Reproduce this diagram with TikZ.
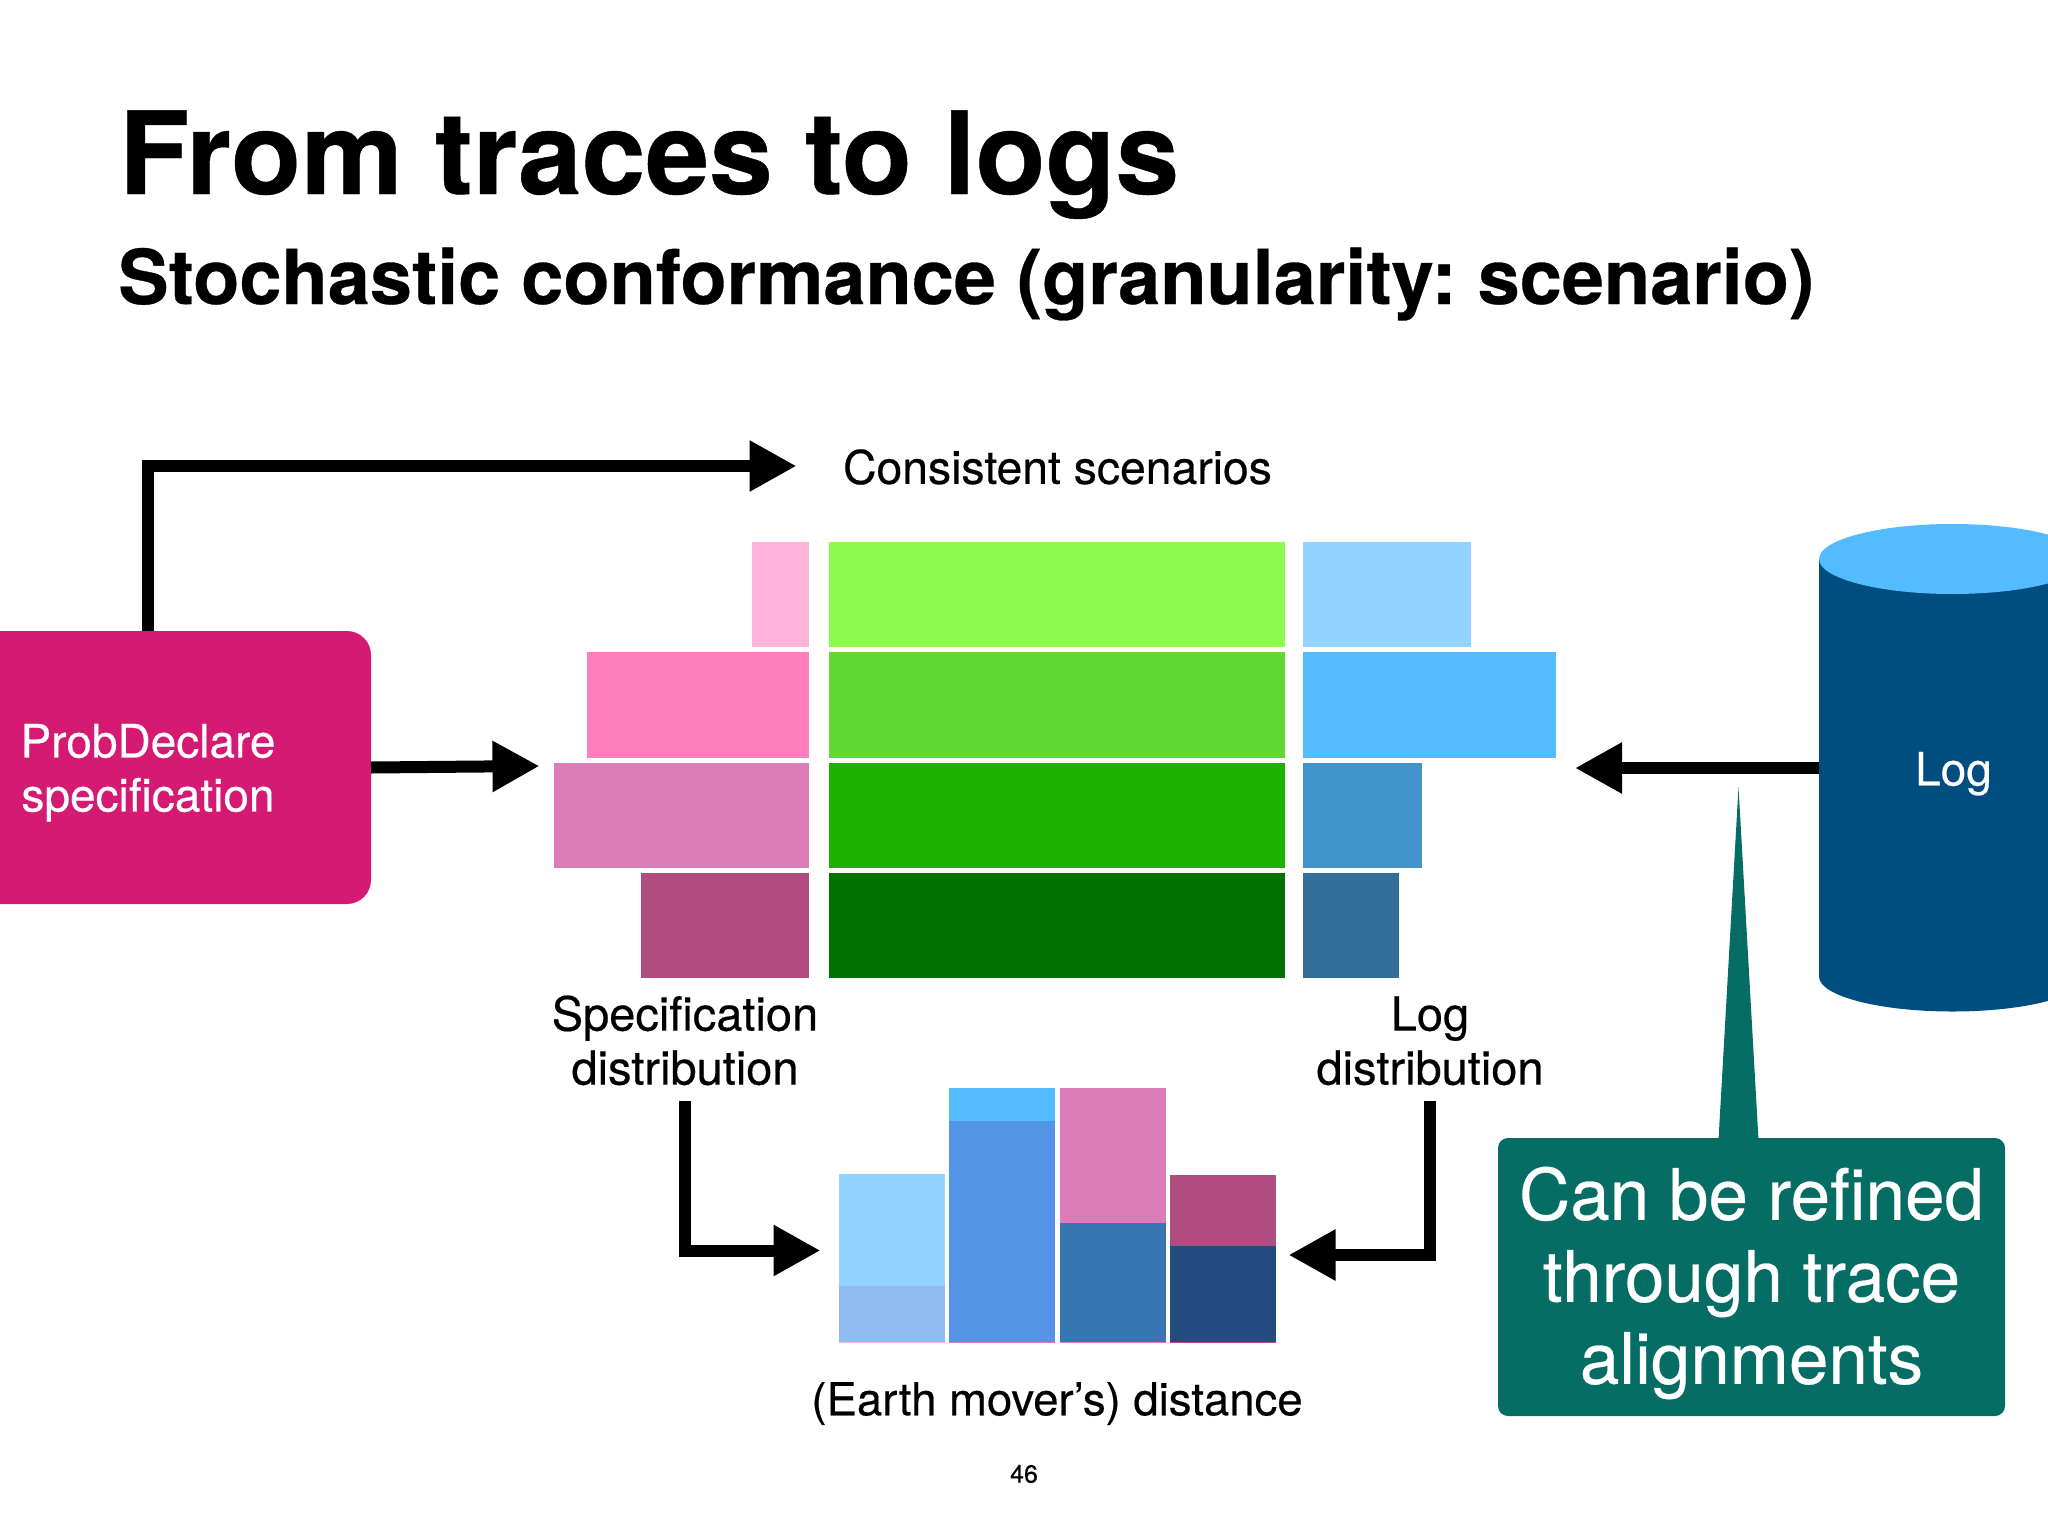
\documentclass[tikz,border=0pt]{standalone}
\usepackage{fontspec}
\setmainfont[FakeBold=0.4]{TeX Gyre Heros}
\usetikzlibrary{arrows.meta,calc}
\definecolor{cSpec}{HTML}{D41A73}
\definecolor{cTeal}{HTML}{056D64}
\definecolor{cLog}{HTML}{004D80}
\definecolor{cTop}{HTML}{53BBFF}
\definecolor{gA}{HTML}{8DFB4E}
\definecolor{gB}{HTML}{61D836}
\definecolor{gC}{HTML}{1DB100}
\definecolor{gD}{HTML}{017100}
\definecolor{pA}{HTML}{FFB3D8}
\definecolor{pB}{HTML}{FF7DBB}
\definecolor{pC}{HTML}{DC7CB8}
\definecolor{pD}{HTML}{B04C80}
\definecolor{bA}{HTML}{92D4FF}
\definecolor{bB}{HTML}{53BBFF}
\definecolor{bC}{HTML}{4194CB}
\definecolor{bD}{HTML}{336E99}
\definecolor{hA}{HTML}{8FBBF0}
\definecolor{hB}{HTML}{5394E5}
\definecolor{hC}{HTML}{3576B3}
\definecolor{hD}{HTML}{224C80}
\frenchspacing
\tikzset{
  x=1pt,y=-1pt,
  barbox/.style={inner sep=0pt,outer sep=0pt,draw=none},
  lbl/.style={font=\fontsize{47}{54}\selectfont,align=center,text=black,inner xsep=0pt,inner ysep=15.5pt},
  arr/.style={line width=12pt,draw=black,line join=miter,
    -{Triangle[length=47pt,width=48pt]}},
}
\newcommand{\rbar}[6]{%
  \pgfmathsetmacro{\rw}{#4-#2}\pgfmathsetmacro{\rh}{#5-#3}%
  \pgfmathsetmacro{\rx}{(#2+#4)/2}\pgfmathsetmacro{\ry}{(#3+#5)/2}%
  \node[barbox,fill=#6,minimum width=\rw pt,minimum height=\rh pt] (#1) at (\rx,\ry) {};}
\begin{document}
\begin{tikzpicture}
\useasboundingbox (0,0) rectangle (2048,1536);
% title
\node[anchor=base west,inner sep=0pt,font=\fontsize{114.6}{114.6}\selectfont\bfseries] (title) at (119,194) {From traces to logs};
\node[anchor=base west,inner sep=0pt,font=\fontsize{75.7}{75.7}\selectfont\bfseries] (subtitle) at (118,304) {Stochastic conformance (granularity: scenario)};
% specification distribution
\rbar{sa}{752}{541.5}{809}{647}{pA}
\rbar{sb}{587}{652}{809}{757.5}{pB}
\rbar{sc}{553.5}{763}{809}{868}{pC}
\rbar{sd}{641}{872.5}{809}{978}{pD}
% scenarios
\rbar{ga}{829}{541.5}{1285}{647}{gA}
\rbar{gb}{829}{652}{1285}{757.5}{gB}
\rbar{gc}{829}{763}{1285}{868}{gC}
\rbar{gd}{829}{872.5}{1285}{978}{gD}
% log distribution
\rbar{la}{1303}{541.5}{1470.5}{647}{bA}
\rbar{lb}{1303}{652}{1556}{757.5}{bB}
\rbar{lc}{1303}{763}{1422}{868}{bC}
\rbar{ld}{1303}{872.5}{1399}{978}{bD}
% histogram
\rbar{hab}{838.5}{1341}{944.5}{1343}{pA}
\rbar{hbb}{948.5}{1341}{1055}{1343}{pC}
\rbar{hcb}{1060}{1341}{1165.5}{1343}{pC}
\rbar{hdb}{1169.5}{1341}{1275.5}{1343}{pD}
\rbar{haa}{838.5}{1174}{944.5}{1285.5}{bA}
\rbar{hab2}{838.5}{1285.5}{944.5}{1342}{hA}
\rbar{hba}{948.5}{1088}{1055}{1121}{bB}
\rbar{hbb2}{948.5}{1121}{1055}{1342}{hB}
\rbar{hca}{1060}{1087.5}{1165.5}{1222.5}{pC}
\rbar{hcb2}{1060}{1222.5}{1165.5}{1342}{hC}
\rbar{hda}{1169.5}{1175}{1275.5}{1246}{pD}
\rbar{hdb2}{1169.5}{1246}{1275.5}{1342}{hD}
% spec box
\node[fill=cSpec,rounded corners=24pt,minimum width=446pt,minimum height=273pt,inner sep=0pt,outer sep=0pt,
  font=\fontsize{46}{54}\selectfont,text=white,align=center] (spec) at (148,767.5) {\rule{0pt}{44pt}ProbDeclare\\specification};
% cylinder
\fill[cLog] (1819,559) -- (1819,976.5) arc[start angle=180,end angle=360,x radius=133.5,y radius=-35] -- (2086,559) -- cycle;
\fill[cTop] (1952.5,559) ellipse[x radius=133.5,y radius=35];
\node[barbox,minimum width=267pt,minimum height=100pt,font=\fontsize{46}{54}\selectfont,text=white] (log) at (1952.5,768) {\hspace{2pt}\rule{0pt}{45pt}Log};
% callout
\fill[cTeal] (1718.5,1140) -- (1738.5,787) -- (1758.5,1140) -- cycle;
\node[fill=cTeal,rounded corners=10pt,minimum width=507pt,minimum height=278pt,inner sep=0pt,outer sep=0pt,
  font=\fontsize{71}{82}\selectfont,text=white,align=center] (note) at (1751.5,1277) {\rule{0pt}{65pt}Can be refined\\through trace\\alignments};
% labels
\node[lbl,anchor=south] (specdist) at (685,1101) {Specification\\distribution};
\node[lbl,anchor=south] (logdist) at (1430,1101) {Log\\distribution};
\node[font=\fontsize{46.3}{54}\selectfont,inner sep=0pt] (cons) at (1057.5,467) {Consistent scenarios};
\node[font=\fontsize{45.5}{54}\selectfont,inner sep=0pt] (emd) at (1057,1403.5) {(Earth mover’s) distance};
\node[font=\fontsize{25}{30}\selectfont,inner sep=0pt] (page) at (1024,1474) {46};
% connectors
\coordinate (t1) at (796.5,466);
\coordinate (t2) at (539.5,766);
\coordinate (t3) at (1575,768);
\coordinate (t4) at (820.5,1250.5);
\coordinate (t5) at (1288.5,1255);
\draw[arr] (spec.north) |- (t1);
\draw[arr] (spec.east) -- (t2);
\draw[arr] (log.west) -- (t3);
\draw[arr] (specdist.south) |- (t4);
\draw[arr] (logdist.south) |- (t5);
\end{tikzpicture}
\end{document}
